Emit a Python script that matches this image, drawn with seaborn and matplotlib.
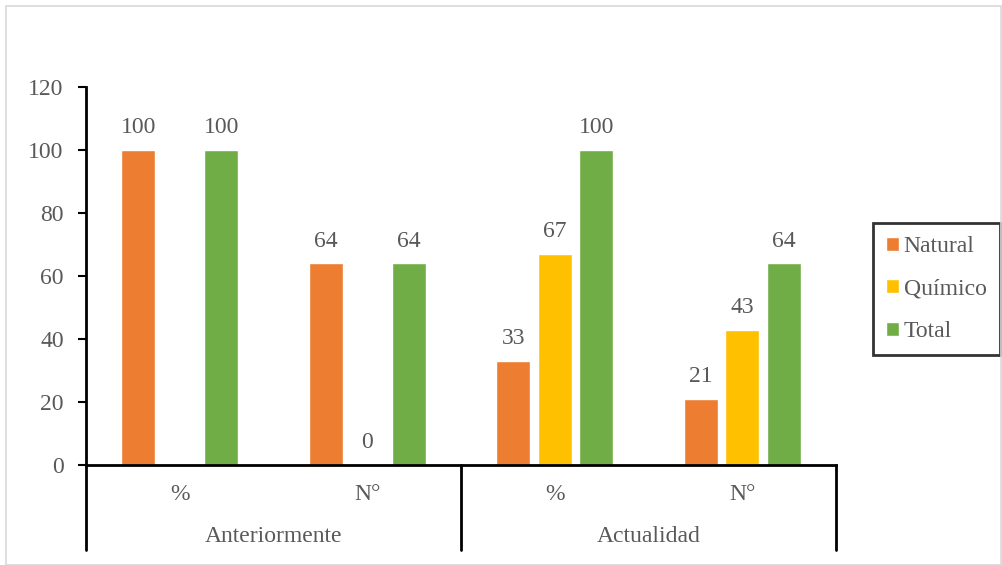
import numpy as np
import pandas as pd
import matplotlib
matplotlib.use("Agg")
import matplotlib.pyplot as plt
import seaborn as sns
from matplotlib.patches import Rectangle

groups = ["Anteriormente", "Anteriormente", "Actualidad", "Actualidad"]
subcats = ["%", "N°", "%", "N°"]
series = ["Natural", "Químico", "Total"]
natural = [100, 64, 33, 21]
quimico = [np.nan, 0, 67, 43]
total = [100, 64, 100, 64]
colors = ["#ED7D31", "#FFC000", "#70AD47"]

keys = [f"{g}|{s}" for g, s in zip(groups, subcats)]
rows = []
for name, vals in zip(series, [natural, quimico, total]):
    for k, v in zip(keys, vals):
        rows.append({"cat": k, "serie": name, "valor": v})
df = pd.DataFrame(rows)

sns.set_theme(style="white")
plt.rcParams["font.family"] = ["Liberation Serif", "DejaVu Serif"]
txt = "#595959"
FS = 17

fig = plt.figure(figsize=(10.03, 5.65), dpi=100)
ax = fig.add_axes([86/1003, 1 - 465/565, 750/1003, 378/565])

sns.barplot(data=df, x="cat", y="valor", hue="serie", order=keys, hue_order=series,
            palette=colors, width=0.664, gap=0.18, saturation=1, ax=ax, legend=True)

ax.set_ylim(0, 120)
ax.set_xlim(-0.5, 3.5)
ax.set_yticks(range(0, 121, 20))
ax.tick_params(axis="y", which="both", left=True, length=6, width=1.5, color="black",
               labelsize=FS, labelcolor=txt, pad=10, direction="out")
ax.tick_params(axis="x", bottom=False, labelbottom=False)
ax.set_xlabel("")
ax.set_ylabel("")
for s in ["top", "right"]:
    ax.spines[s].set_visible(False)
ax.spines["left"].set_linewidth(2)
ax.spines["left"].set_color("black")
ax.spines["bottom"].set_linewidth(2)
ax.spines["bottom"].set_color("black")

# data labels
for cont in ax.containers:
    for bar in cont:
        h = bar.get_height()
        if np.isnan(h):
            continue
        ax.annotate(f"{h:.0f}", (bar.get_x() + bar.get_width()/2, h),
                    xytext=(0, 12), textcoords="offset points",
                    ha="center", va="baseline", fontsize=FS, color=txt)

# multi-level category axis
tr = ax.get_xaxis_transform()
ybot = -(550 - 465) / 378
for xv in [-0.5, 1.5, 3.5]:
    ax.plot([xv, xv], [0, ybot], transform=tr, color="black", lw=2, clip_on=False)
for i, s in enumerate(subcats):
    ax.text(i, -(495 - 465) / 378, s, transform=tr, ha="center", va="center",
            fontsize=FS, color=txt)
for c, g in zip([0.5, 2.5], ["Anteriormente", "Actualidad"]):
    ax.text(c, -(537 - 465) / 378, g, transform=tr, ha="center", va="center",
            fontsize=FS, color=txt)

leg = ax.legend(loc="upper left", bbox_to_anchor=(873/1003, 1 - 223/565),
                bbox_transform=fig.transFigure, borderaxespad=0, fontsize=FS,
                handlelength=0.55, handleheight=0.55, handletextpad=0.2,
                labelspacing=0.92, borderpad=0.55, fancybox=False, frameon=True)
leg.get_frame().set_edgecolor("black")
leg.get_frame().set_linewidth(2)
for t in leg.get_texts():
    t.set_color(txt)

fig.patches.append(Rectangle((6/1003, 0), 995/1003, 1 - 6/565, transform=fig.transFigure,
                             fill=False, edgecolor="#D9D9D9", lw=1.2))

fig.savefig("out.png", dpi=100)
